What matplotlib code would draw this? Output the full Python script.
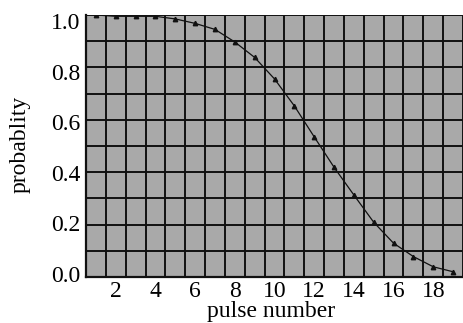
import matplotlib
matplotlib.use("Agg")
import matplotlib.pyplot as plt
import matplotlib.transforms as mtransforms
import numpy as np

plt.rcParams['font.family'] = ['Liberation Serif', 'DejaVu Serif']

pulse = [1, 2, 3, 4, 5, 6, 7, 8, 9, 10, 11, 12, 13, 14, 15, 16, 17, 18, 19]
prob = [1.0, 0.995, 0.995, 0.995, 0.985, 0.968, 0.945, 0.897, 0.838, 0.756,
        0.653, 0.535, 0.419, 0.313, 0.209, 0.129, 0.078, 0.039, 0.02]
xticks = [2, 4, 6, 8, 10, 12, 14, 16, 18]
yticks = [0.0, 0.2, 0.4, 0.6, 0.8, 1.0]
ytick_labels = ['0.0', '0.2', '0.4', '0.6', '0.8', '1.0']

W, H = 463, 323
fig = plt.figure(figsize=(W / 100, H / 100), dpi=100)
ax = fig.add_axes([86 / W, 1 - 277 / H, (463 - 86) / W, (277 - 15) / H])
ax.set_facecolor('#a9a9a9')

ax.set_xlim(0.5, 19.5)
ax.set_ylim(0, 1.0)

# grid
for gx in np.arange(0.5, 19.6, 1.0):
    ax.axvline(gx, color='#111111', lw=1.4, zorder=1)
for gy in np.arange(0.0, 1.01, 0.1):
    ax.axhline(gy, color='#111111', lw=1.4, zorder=1)

ax.plot(pulse, prob, color='#111111', lw=0.9, zorder=3)
ax.plot(pulse, prob, linestyle='none', marker='^', ms=3.2, color='#111111', zorder=4)

for s in ['top', 'right']:
    ax.spines[s].set_visible(False)
for s in ['left', 'bottom']:
    ax.spines[s].set_color('#111111')
    ax.spines[s].set_linewidth(1.6)

ax.set_xticks(xticks)
ax.set_xticklabels([str(t) for t in xticks])
ax.set_yticks(yticks)
ax.set_yticklabels(ytick_labels)
ax.tick_params(length=0, labelsize=17, colors='black', pad=4)
ax.tick_params(axis='x', pad=3)

# small vertical offsets of y tick labels as in reference
offsets_px = [-3.5, -1.3, 1.1, 1.9, 4.3, 6.0]
for lab, off in zip(ax.get_yticklabels(), offsets_px):
    lab.set_transform(lab.get_transform() + mtransforms.ScaledTranslation(0, -off / 100, fig.dpi_scale_trans))

fig.text(271 / W, 1 - 311 / H, 'pulse number', ha='center', va='center', fontsize=17)
fig.text(20 / W, 1 - 144 / H, 'probablity', ha='center', va='center', rotation=90, fontsize=17)

fig.savefig('out.png', dpi=100, facecolor='white')
